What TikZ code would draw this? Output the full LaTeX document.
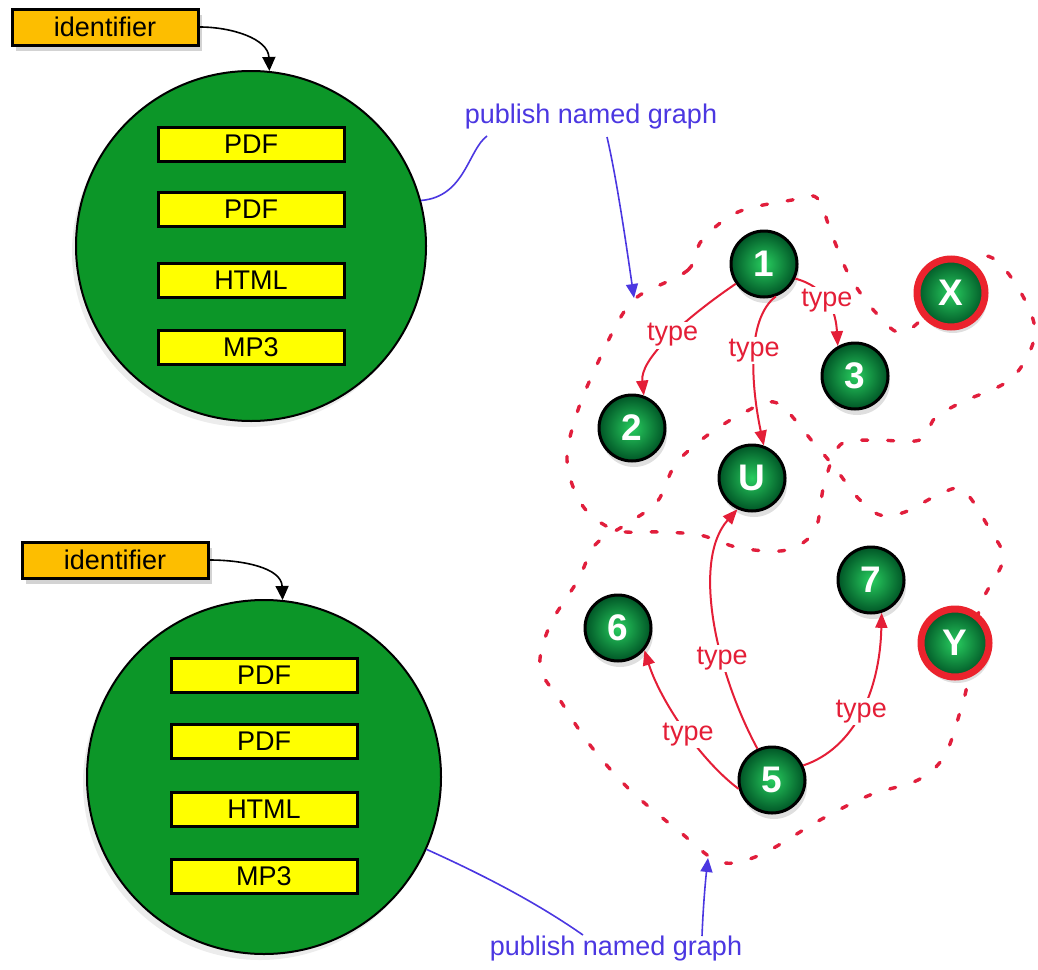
\documentclass[tikz,border=0pt]{standalone}
\usepackage{fontspec}
\setmainfont{Liberation Sans}
\usetikzlibrary{arrows.meta,shadows}

\definecolor{idorange}{RGB}{253,190,0}
\definecolor{docyellow}{RGB}{255,255,0}
\definecolor{baggreen}{RGB}{12,150,40}
\definecolor{edgered}{RGB}{228,30,55}
\definecolor{dashred}{RGB}{225,30,60}
\definecolor{pubblue}{RGB}{75,55,225}
\definecolor{balllight}{RGB}{40,205,95}
\definecolor{balldark}{RGB}{0,85,38}
\definecolor{ringred}{RGB}{235,35,45}

\tikzset{
  lbl/.style={font=\fontsize{13.5}{16}\selectfont},
  idbox/.style={draw=black, line width=1.5pt, fill=idorange, minimum width=93pt,
    minimum height=18pt, inner sep=0pt, lbl,
    drop shadow={opacity=0.35, shadow xshift=2pt, shadow yshift=-3pt}},
  docbox/.style={draw=black, line width=1.5pt, fill=docyellow, minimum width=93pt,
    minimum height=17pt, inner sep=0pt, lbl},
  bag/.style={circle, draw=black, line width=1pt, fill=baggreen, minimum size=175pt,
    inner sep=0pt, drop shadow={opacity=0.15, shadow xshift=-2pt, shadow yshift=-3pt}},
  res/.style={circle, draw=black, line width=1.5pt, shading=radial,
    inner color=balllight, outer color=balldark, minimum size=33pt, inner sep=0pt,
    text=white, font=\fontsize{18.5}{20}\selectfont\bfseries,
    drop shadow={opacity=0.25, shadow xshift=1pt, shadow yshift=-3pt}},
  extres/.style={res, draw=ringred, line width=3.5pt, minimum size=34pt},
  rel/.style={draw=edgered, line width=1pt, -{Triangle[length=7.5pt,width=6pt]}},
  rellbl/.style={lbl, text=edgered, fill=white, inner sep=1pt},
  graphline/.style={draw=dashred, line width=1.7pt, line cap=round,
    dash pattern=on 3pt off 10pt},
  pub/.style={draw=pubblue, line width=0.8pt},
  pubarrow/.style={pub, -{Triangle[length=7pt,width=6pt]}},
  publbl/.style={lbl, text=pubblue, inner sep=1pt},
  idarrow/.style={draw=black, line width=0.8pt, -{Triangle[length=7pt,width=6.5pt]}},
}

\begin{document}
\begin{tikzpicture}[x=0.5pt, y=-0.5pt]
\useasboundingbox (0,0) rectangle (1038,969);

% named graph boundaries
\draw[graphline] plot[smooth cycle, tension=0.55] coordinates {
  (640,295) (688,270) (702,240) (738,212) (792,200) (817,198) (832,235)
  (850,277) (878,315) (905,332) (950,290) (985,256) (1015,283) (1035,332)
  (1012,378) (962,402) (935,418) (920,440) (872,440) (840,445) (824,485)
  (815,530) (787,550) (740,548) (700,535) (660,532) (615,530) (582,505)
  (567,460) (578,410) (600,358) (622,315)};
\draw[graphline] plot[smooth cycle, tension=0.55] coordinates {
  (813,442) (777,403) (745,412) (705,437) (675,465) (657,502) (625,525)
  (595,545) (578,580) (550,625) (540,667) (560,700) (590,745) (630,790)
  (680,832) (720,862) (760,855) (820,820) (870,795) (918,780) (945,755)
  (962,705) (968,680) (980,607) (1003,560) (990,530) (963,490) (938,495)
  (905,512) (880,515) (858,498) (835,468)};

% document bags
\node[bag] (bagA) at (251,246) {};
\node[docbox] (docA1) at (251,144) {PDF};
\node[docbox] (docA2) at (251,209) {PDF};
\node[docbox] (docA3) at (251,280) {HTML};
\node[docbox] (docA4) at (251,347) {MP3};

\node[bag, minimum size=177pt] (bagB) at (264,777) {};
\node[docbox] (docB1) at (264,675) {PDF};
\node[docbox] (docB2) at (264,741) {PDF};
\node[docbox] (docB3) at (264,809) {HTML};
\node[docbox] (docB4) at (264,876) {MP3};

% identifiers
\node[idbox] (idA) at (105,27) {identifier};
\node[idbox] (idB) at (115,560) {identifier};
\draw[idarrow] (idA.east) to[out=0, in=92] (bagA.84);
\draw[idarrow] (idB.east) to[out=0, in=92] (bagB.84);

% publishing
\node[publbl] (pubA) at (591,117) {publish named graph};
\node[publbl] (pubB) at (616,949) {publish named graph};
\coordinate (pubAin) at (487,136);
\coordinate (pubAout) at (607,137);
\coordinate (tipA) at (634,298);
\coordinate (pubBin) at (583,935);
\coordinate (pubBout) at (702,936);
\coordinate (tipB) at (708,858);
\draw[pub] (bagA.15) .. controls (465,197) and (468,150) .. (pubAin);
\draw[pubarrow] (pubAout) .. controls (617,180) and (627,250) .. (tipA);
\draw[pub] (bagB.-24) .. controls (490,878) and (540,905) .. (pubBin);
\draw[pubarrow] (pubBout) .. controls (703,910) and (705,885) .. (tipB);

% resources
\node[res] (n1) at (764,264) {1};
\node[res] (n2) at (632,428) {2};
\node[res] (n3) at (855,376) {3};
\node[res] (nU) at (752,478) {U};
\node[extres] (nX) at (951,293) {X};
\node[res] (n7) at (871,580) {7};
\node[res] (n6) at (618,628) {6};
\node[extres] (nY) at (955,643) {Y};
\node[res] (n5) at (772,780) {5};

% typed relations
\draw[rel] (n1.215) .. controls (680,322) and (640,360) .. node[rellbl, pos=0.45] {type} (n2.70);
\draw[rel] (n1.290) .. controls (745,320) and (752,390) .. node[rellbl, pos=0.45] {type} (nU.70);
\draw[rel] (n1.-25) .. controls (830,288) and (836,315) .. node[rellbl, pos=0.45] {type} (n3.120);
\draw[rel] (n5.115) .. controls (715,670) and (692,560) .. node[rellbl, pos=0.35] {type} (nU.245);
\draw[rel] (n5.195) .. controls (700,760) and (660,700) .. node[rellbl, pos=0.45] {type} (n6.-40);
\draw[rel] (n5.25) .. controls (855,748) and (880,690) .. node[rellbl, pos=0.5] {type} (n7.-72);
\end{tikzpicture}
\end{document}
